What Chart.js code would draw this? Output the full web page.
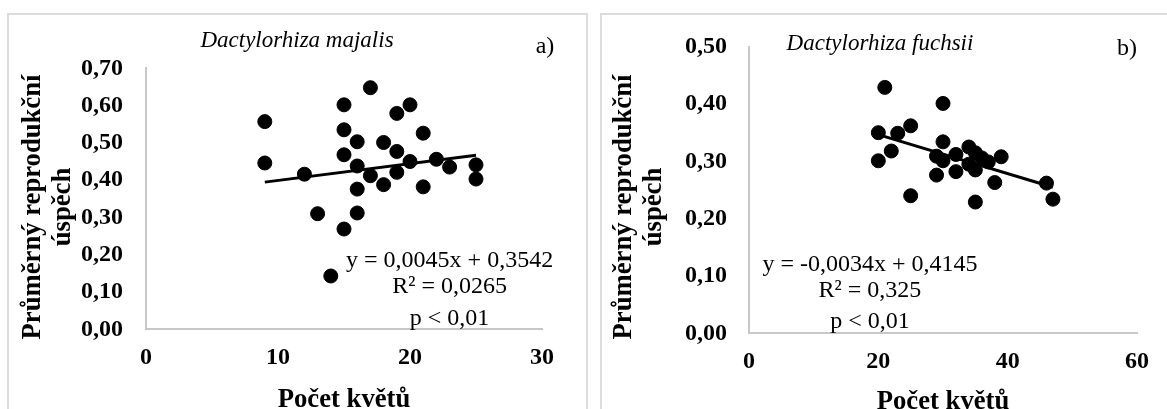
<!DOCTYPE html>
<html>
<head>
<meta charset="utf-8">
<script src="https://cdn.jsdelivr.net/npm/chart.js@4.4.1/dist/chart.umd.min.js"></script>
<style>
  html, body { margin: 0; padding: 0; background: #fff; width: 1167px; height: 409px; overflow: hidden; position: relative; }
  .frame { position: absolute; border: 2px solid #dcdcdc; box-sizing: border-box; }
  #frameA { left: 7px; top: 13px; width: 581px; height: 430px; }
  #frameB { left: 600px; top: 13px; width: 600px; height: 430px; }
  canvas { position: absolute; top: 0; }
  #chartA { left: 0; width: 594px; height: 409px; }
  #chartB { left: 594px; width: 573px; height: 409px; }
</style>
</head>
<body>
<div class="frame" id="frameA"></div>
<div class="frame" id="frameB"></div>
<canvas id="chartA" width="594" height="409"></canvas>
<canvas id="chartB" width="573" height="409"></canvas>
<script>
// Dactylorhiza majalis: number of flowers vs. mean reproductive success
const majalisFlowers = [9, 9, 12, 13, 14, 15, 15, 15, 15, 16, 16, 16, 16, 17, 17, 18, 18, 19, 19, 19, 20, 20, 21, 21, 22, 23, 25, 25];
const majalisSuccess = [0.557, 0.446, 0.416, 0.310, 0.143, 0.602, 0.535, 0.468, 0.269, 0.503, 0.438, 0.376, 0.312, 0.648, 0.412, 0.501, 0.388, 0.579, 0.477, 0.421, 0.602, 0.450, 0.526, 0.382, 0.456, 0.435, 0.441, 0.403];
const majalisSlope = 0.0045;
const majalisIntercept = 0.3542;
const majalisR2 = '0,0265';

// Dactylorhiza fuchsii: number of flowers vs. mean reproductive success
const fuchsiiFlowers = [20, 20, 21, 22, 23, 25, 25, 29, 29, 30, 30, 30, 32, 32, 34, 34, 35, 35, 35, 36, 37, 38, 39, 46, 47];
const fuchsiiSuccess = [0.350, 0.301, 0.429, 0.318, 0.349, 0.362, 0.240, 0.309, 0.276, 0.401, 0.334, 0.301, 0.312, 0.282, 0.325, 0.295, 0.315, 0.285, 0.229, 0.306, 0.299, 0.263, 0.308, 0.262, 0.234];
const fuchsiiSlope = -0.0034;
const fuchsiiIntercept = 0.4145;
const fuchsiiR2 = '0,325';

// Axis ticks
const majalisXTicks = [0, 10, 20, 30];
const majalisYTicks = [0, 0.1, 0.2, 0.3, 0.4, 0.5, 0.6, 0.7];
const fuchsiiXTicks = [0, 20, 40, 60];
const fuchsiiYTicks = [0, 0.1, 0.2, 0.3, 0.4, 0.5];

const SERIF = "'Liberation Serif', 'Times New Roman', serif";
const comma = (v, d) => v.toFixed(d).replace('.', ',');
const signed = v => (v < 0 ? '-' : '') + comma(Math.abs(v), 4);

function trendPoints(xs, slope, intercept) {
  const lo = Math.min(...xs), hi = Math.max(...xs);
  return [{ x: lo, y: slope * lo + intercept }, { x: hi, y: slope * hi + intercept }];
}

// Draws panel title, panel letter, axis titles and the regression text
const panelText = {
  id: 'panelText',
  afterDraw(chart, args, o) {
    const ctx = chart.ctx;
    const xs = chart.scales.x, ys = chart.scales.y;
    ctx.save();
    ctx.fillStyle = '#000';
    ctx.textBaseline = 'alphabetic';
    ctx.textAlign = 'center';

    ctx.font = `italic 23px ${SERIF}`;
    ctx.fillText(o.title, o.titleX, o.titleY);

    ctx.font = `24px ${SERIF}`;
    ctx.fillText(o.letter, o.letterX, o.letterY);

    ctx.font = `bold 26.67px ${SERIF}`;
    ctx.fillText('Počet květů', (chart.chartArea.left + chart.chartArea.right) / 2, o.xTitleY);

    o.yTitle.forEach((line, i) => {
      ctx.save();
      ctx.translate(o.yTitleX[i], o.yTitleMid);
      ctx.rotate(-Math.PI / 2);
      ctx.fillText(line, 0, 0);
      ctx.restore();
    });

    ctx.font = `24px ${SERIF}`;
    o.notes.forEach((line, i) => {
      ctx.fillText(line, xs.getPixelForValue(o.noteX), ys.getPixelForValue(o.noteY[i]));
    });
    ctx.restore();
  }
};

function axis(ticks, fmt, pad, fitKey, fitVal, max) {
  return {
    type: 'linear',
    min: 0,
    max: max,
    afterBuildTicks: s => { s.ticks = ticks.map(v => ({ value: v })); },
    afterFit: s => { s[fitKey] = fitVal; },
    grid: { display: false, drawTicks: false },
    border: { display: true, color: '#c8c8c8', width: 2 },
    ticks: {
      padding: pad,
      autoSkip: false,
      maxRotation: 0,
      color: '#000',
      font: { family: SERIF, weight: 'bold', size: 24 },
      callback: v => fmt(v)
    }
  };
}

function makeChart(id, c) {
  return new Chart(document.getElementById(id), {
    type: 'scatter',
    data: {
      datasets: [
        {
          type: 'line',
          data: trendPoints(c.xs, c.slope, c.intercept),
          borderColor: '#000',
          borderWidth: 3,
          pointRadius: 0,
          fill: false,
          order: 0
        },
        {
          data: c.xs.map((x, i) => ({ x: x, y: c.ys[i] })),
          backgroundColor: '#000',
          borderColor: '#000',
          pointRadius: 7,
          pointHoverRadius: 7,
          order: 1
        }
      ]
    },
    options: {
      responsive: false,
      animation: false,
      events: [],
      layout: { padding: { left: 0, top: c.top, right: c.right, bottom: 0 } },
      plugins: {
        legend: { display: false },
        tooltip: { enabled: false },
        panelText: c.text
      },
      scales: {
        x: axis(c.xTicks, v => String(v), c.xPad, 'height', c.xHeight, c.xMax),
        y: axis(c.yTicks, v => comma(v, 2), c.yPad, 'width', c.yWidth, c.yMax)
      }
    },
    plugins: [panelText]
  });
}

makeChart('chartA', {
  xs: majalisFlowers, ys: majalisSuccess, slope: majalisSlope, intercept: majalisIntercept,
  xTicks: majalisXTicks, yTicks: majalisYTicks, xMax: 30, yMax: 0.7,
  top: 68.3, right: 52, xHeight: 79.7, yWidth: 146, yPad: 23, xPad: 14,
  text: {
    title: 'Dactylorhiza majalis', titleX: 297, titleY: 47,
    letter: 'a)', letterX: 545, letterY: 53,
    xTitleY: 407,
    yTitle: ['Průměrný reprodukční', 'úspěch'], yTitleX: [40, 70], yTitleMid: 207,
    notes: ['y = ' + comma(majalisSlope, 4) + 'x + ' + comma(majalisIntercept, 4), 'R² = ' + majalisR2, 'p < 0,01'],
    noteX: 23.0, noteY: [0.166, 0.0965, 0.0105]
  }
});

makeChart('chartB', {
  xs: fuchsiiFlowers, ys: fuchsiiSuccess, slope: fuchsiiSlope, intercept: fuchsiiIntercept,
  xTicks: fuchsiiXTicks, yTicks: fuchsiiYTicks, xMax: 60, yMax: 0.5,
  top: 46.7, right: 30, xHeight: 75.7, yWidth: 155, yPad: 22, xPad: 14,
  text: {
    title: 'Dactylorhiza fuchsii', titleX: 286, titleY: 50,
    letter: 'b)', letterX: 533, letterY: 55,
    xTitleY: 409,
    yTitle: ['Průměrný reprodukční', 'úspěch'], yTitleX: [37, 67], yTitleMid: 207,
    notes: ['y = ' + signed(fuchsiiSlope) + 'x + ' + comma(fuchsiiIntercept, 4), 'R² = ' + fuchsiiR2, 'p < 0,01'],
    noteX: 18.7, noteY: [0.109, 0.064, 0.009]
  }
});
</script>
</body>
</html>
